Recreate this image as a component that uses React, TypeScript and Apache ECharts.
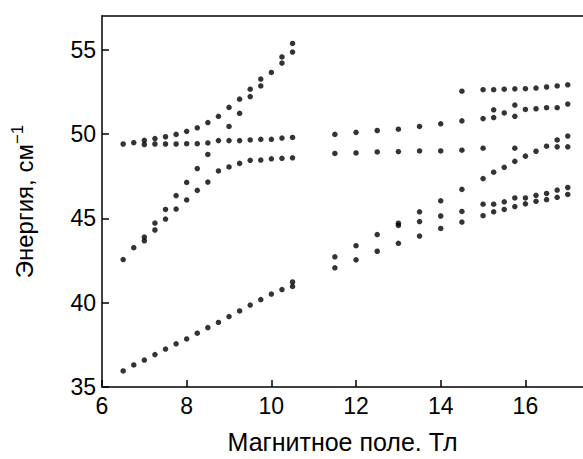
import React, { useEffect, useRef } from "react";
import * as echarts from "echarts";

// Field (T), energy (cm^-1) pairs
const lowBranch: number[][] = [
  [6.5, 35.95], [6.75, 36.31], [7, 36.6], [7.25, 36.92], [7.5, 37.25], [7.75, 37.56],
  [8, 37.85], [8.25, 38.19], [8.5, 38.52], [8.75, 38.83], [9, 39.18], [9.25, 39.51],
  [9.5, 39.86], [9.75, 40.18], [10, 40.51], [10.25, 40.78], [10.5, 40.96], [10.5, 41.23],
];
const midLowBranch: number[][] = [
  [6.5, 42.56], [6.75, 43.26], [7, 43.67], [7.25, 44.31], [7.5, 44.96], [7.75, 45.55],
  [8, 46.09], [8.25, 46.66], [8.5, 47.15], [8.75, 47.81], [9, 48.05], [9.25, 48.26],
  [9.5, 48.44], [9.75, 48.46], [10, 48.53], [10.25, 48.56], [10.5, 48.59],
];
const steepBranch: number[][] = [
  [7, 43.89], [7.25, 44.72], [7.5, 45.53], [7.75, 46.35], [8, 47.13], [8.25, 47.95],
  [8.5, 48.79], [9, 50.45], [9.25, 51.23], [9.5, 52.22], [9.75, 52.85], [10.25, 54.21],
  [10.5, 54.86],
];
const flatBranch: number[][] = [
  [6.5, 49.41], [6.75, 49.49], [7, 49.38], [7.25, 49.41], [7.5, 49.41], [7.75, 49.41],
  [8, 49.43], [8.25, 49.43], [8.5, 49.47], [8.75, 49.61], [9, 49.61], [9.25, 49.61],
  [9.5, 49.65], [9.75, 49.69], [10, 49.69], [10.25, 49.76], [10.5, 49.8],
];
const upperBranch: number[][] = [
  [7, 49.63], [7.25, 49.73], [7.5, 49.84], [7.75, 49.98], [8, 50.16], [8.25, 50.37],
  [8.5, 50.68], [8.75, 51.05], [9, 51.58], [9.25, 52.07], [9.5, 52.66], [9.75, 53.26],
  [10, 53.65], [10.25, 54.57], [10.5, 55.37],
];
const hiTopBranch: number[][] = [
  [14.5, 52.54], [15, 52.63], [15.25, 52.63], [15.5, 52.66], [15.75, 52.68], [16, 52.69],
  [16.25, 52.73], [16.5, 52.79], [16.75, 52.85], [17, 52.92],
];
const hiSecondBranch: number[][] = [
  [11.5, 49.98], [12, 50.1], [12.5, 50.21], [13, 50.29], [13.5, 50.45], [14, 50.61],
  [14.5, 50.78], [15, 50.92], [15.25, 50.98], [15.25, 51.44], [15.5, 51.25], [15.75, 51.05],
  [15.75, 51.72], [16, 51.46], [16.25, 51.5], [16.5, 51.56], [16.75, 51.56], [17, 51.78],
];
const hiMidBranch: number[][] = [
  [11.5, 48.85], [12, 48.88], [12.5, 48.94], [13, 48.96], [13.5, 49.0], [14, 49.0],
  [14.5, 49.04], [15, 49.16], [15.75, 49.16], [16.75, 49.24], [17, 49.24],
];
const hiRisingBranch: number[][] = [
  [11.5, 42.72], [12, 43.38], [12.5, 44.04], [13, 44.71], [13.5, 45.39], [14, 46.04],
  [14.5, 46.72], [15, 47.36], [15.25, 47.74], [15.5, 48.03], [15.75, 48.38], [16, 48.69],
  [16.25, 48.98], [16.5, 49.28], [16.75, 49.65], [17, 49.88],
];
const hiInnerBranch: number[][] = [
  [13, 44.58], [13.5, 44.81], [14, 45.14], [14.5, 45.41], [15, 45.84], [15.25, 45.84],
  [15.5, 45.98], [15.75, 46.21], [16, 46.21], [16.25, 46.37], [16.5, 46.48], [16.75, 46.68],
  [17, 46.83],
];
const hiLowBranch: number[][] = [
  [11.5, 42.07], [12, 42.54], [12.5, 43.05], [13, 43.52], [13.5, 43.95], [14, 44.4],
  [14.5, 44.78], [15, 45.16], [15.25, 45.39], [15.5, 45.53], [15.75, 45.7], [16, 45.86],
  [16.25, 46.01], [16.5, 46.11], [16.75, 46.25], [17, 46.42],
];

const branches = [
  lowBranch, midLowBranch, steepBranch, flatBranch, upperBranch,
  hiTopBranch, hiSecondBranch, hiMidBranch, hiRisingBranch, hiInnerBranch, hiLowBranch,
];

const xTitle = "Магнитное поле. Тл";
const yTitleMain = "Энергия, см";
const yTitleSup = "−1";

const FONT = "'Liberation Sans', Arial, Helvetica, sans-serif";

export default function App() {
  const ref = useRef<HTMLDivElement>(null);
  useEffect(() => {
    if (!ref.current) return;
    const chart = echarts.init(ref.current, undefined, { renderer: "svg" });
    chart.setOption({
      animation: false,
      backgroundColor: "#ffffff",
      grid: { left: 102, top: 16, right: 0, bottom: 68, containLabel: false },
      xAxis: [
        {
          type: "value",
          min: 6,
          max: 17.36,
          interval: 2,
          position: "bottom",
          name: xTitle,
          nameLocation: "middle",
          nameGap: 42,
          nameTextStyle: { color: "#000", fontSize: 25, fontFamily: FONT },
          axisLine: { show: true, onZero: false, lineStyle: { color: "#000", width: 1.5 } },
          axisTick: { show: true, inside: true, length: 7, lineStyle: { color: "#000", width: 1.5 } },
          axisLabel: { color: "#000", fontSize: 23, fontFamily: FONT, margin: 7, showMaxLabel: false },
          splitLine: { show: false },
        },
        {
          type: "value",
          min: 6,
          max: 17.36,
          position: "top",
          axisLine: { show: true, onZero: false, lineStyle: { color: "#000", width: 1.5 } },
          axisTick: { show: false },
          axisLabel: { show: false },
          splitLine: { show: false },
        },
      ],
      yAxis: {
        type: "value",
        min: 35,
        max: 57,
        interval: 5,
        name: yTitleMain + "{sup|" + yTitleSup + "}",
        nameLocation: "middle",
        nameRotate: 90,
        nameGap: 62,
        nameTextStyle: {
          color: "#000",
          fontSize: 24,
          fontFamily: FONT,
          rich: {
            sup: { fontSize: 17, fontFamily: FONT, color: "#000", verticalAlign: "top", padding: [0, 0, 14, 0] },
          },
        },
        axisLine: { show: true, onZero: false, lineStyle: { color: "#000", width: 1.5 } },
        axisTick: { show: true, inside: true, length: 7, lineStyle: { color: "#000", width: 1.5 } },
        axisLabel: { color: "#000", fontSize: 23, fontFamily: FONT, margin: 6, showMaxLabel: false },
        splitLine: { show: false },
      },
      series: branches.map((b) => ({
        type: "scatter",
        xAxisIndex: 0,
        data: b,
        symbol: "circle",
        symbolSize: 5.5,
        itemStyle: { color: "#000" },
        silent: true,
      })),
    });
    return () => chart.dispose();
  }, []);
  return (
    <div
      ref={ref}
      style={{ position: "absolute", left: 0, top: 0, width: 583, height: 459 }}
    />
  );
}
